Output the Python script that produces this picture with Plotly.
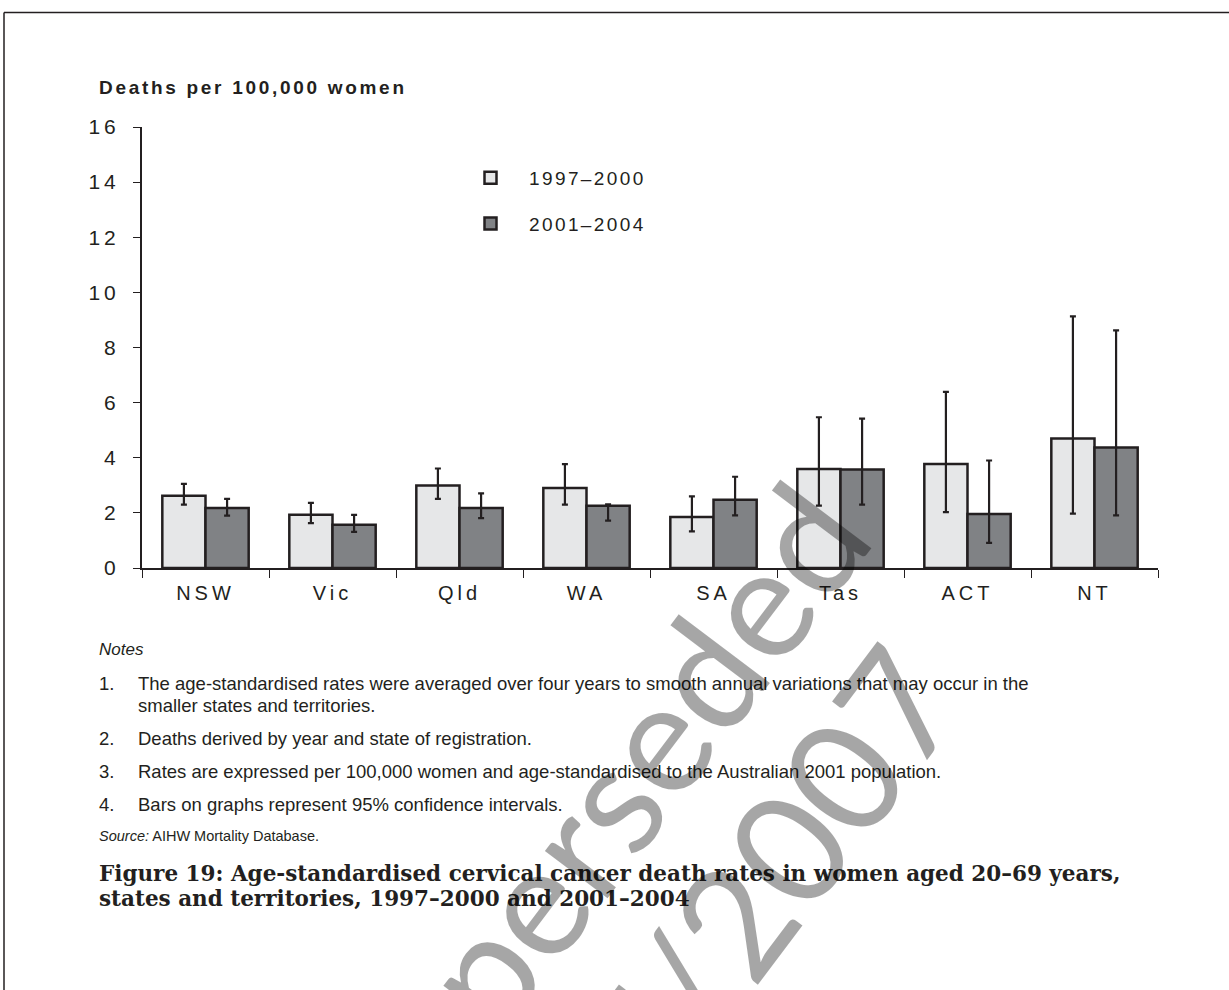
import plotly.graph_objects as go

# Age-standardised cervical cancer death rates, women aged 20-69
states = ["NSW", "Vic", "Qld", "WA", "SA", "Tas", "ACT", "NT"]

rate_1997_2000 = [2.62, 1.93, 2.99, 2.90, 1.85, 3.59, 3.77, 4.70]
ci_low_1997_2000 = [2.30, 1.63, 2.51, 2.30, 1.33, 2.26, 2.03, 1.97]
ci_high_1997_2000 = [3.05, 2.36, 3.61, 3.77, 2.60, 5.47, 6.39, 9.13]

rate_2001_2004 = [2.18, 1.57, 2.18, 2.26, 2.48, 3.57, 1.96, 4.37]
ci_low_2001_2004 = [1.90, 1.31, 1.81, 1.72, 1.91, 2.30, 0.91, 1.91]
ci_high_2001_2004 = [2.51, 1.93, 2.71, 2.31, 3.31, 5.42, 3.90, 8.62]

period_labels = ["1997\u20132000", "2001\u20132004"]
y_ticks = [0, 2, 4, 6, 8, 10, 12, 14, 16]

notes = [
    ("1.", "The age-standardised rates were averaged over four years to smooth annual variations that may occur in the"),
    ("", "smaller states and territories."),
    ("2.", "Deaths derived by year and state of registration."),
    ("3.", "Rates are expressed per 100,000 women and age-standardised to the Australian 2001 population."),
    ("4.", "Bars on graphs represent 95% confidence intervals."),
]
title_lines = [
    "Figure 19: Age-standardised cervical cancer death rates in women aged 20\u201369 years,",
    "states and territories, 1997\u20132000 and 2001\u20132004",
]
stamp_lines = ["Superseded", "17/7/2007"]

INK = "#231f20"
W, H = 1229, 990
ML, MR, MT, MB = 142, 71, 127, 422


def px(x):
    return (x - ML) / (W - ML - MR)


def py(y):
    return (H - MB - y) / (H - MT - MB)


def spaced(s, gap):
    return f'<span style="letter-spacing:{gap}px">{s}</span>'


def err(vals, lo, hi):
    up = [h - v for v, h in zip(vals, hi)]
    dn = [v - l for v, l in zip(vals, lo)]
    return dict(type="data", array=up, arrayminus=dn, visible=True,
                color=INK, thickness=2.2, width=3)


fig = go.Figure()
fig.add_trace(go.Bar(
    x=states, y=rate_1997_2000, name=spaced(period_labels[0], 2.4), legendgroup="a",
    marker=dict(color="#e6e7e8", line=dict(color=INK, width=2.5)),
    error_y=err(rate_1997_2000, ci_low_1997_2000, ci_high_1997_2000),
))
fig.add_trace(go.Bar(
    x=states, y=rate_2001_2004, name=spaced(period_labels[1], 2.4), legendgroup="b",
    marker=dict(color="#808285", line=dict(color=INK, width=2.5)),
    error_y=err(rate_2001_2004, ci_low_2001_2004, ci_high_2001_2004),
))

sans = "Liberation Sans, Arial, sans-serif"
NOTE_SIZE = 18.5
ann = []
ann.append(dict(x=px(97), y=py(88), xref="paper", yref="paper", xanchor="left",
                yanchor="middle", showarrow=False,
                text="<b>" + spaced("Deaths per 100,000 women", 2.7) + "</b>",
                font=dict(family=sans, size=19, color=INK)))
ann.append(dict(x=px(97), y=py(649), xref="paper", yref="paper", xanchor="left",
                yanchor="middle", showarrow=False, text="<i>Notes</i>",
                font=dict(family=sans, size=17, color=INK)))
note_y = [683, 705, 738, 771, 804]
for (num, txt), yy in zip(notes, note_y):
    if num:
        ann.append(dict(x=px(97), y=py(yy), xref="paper", yref="paper", xanchor="left",
                        yanchor="middle", showarrow=False, text=num,
                        font=dict(family=sans, size=NOTE_SIZE, color=INK)))
    ann.append(dict(x=px(136), y=py(yy), xref="paper", yref="paper", xanchor="left",
                    yanchor="middle", showarrow=False, text=txt,
                    font=dict(family=sans, size=NOTE_SIZE, color=INK)))
ann.append(dict(x=px(97), y=py(836), xref="paper", yref="paper", xanchor="left",
                yanchor="middle", showarrow=False,
                text="<i>Source:</i> AIHW Mortality Database.",
                font=dict(family=sans, size=14.5, color=INK)))
for line, yy in zip(title_lines, [873, 898]):
    ann.append(dict(x=px(97), y=py(yy), xref="paper", yref="paper", xanchor="left",
                    yanchor="middle", showarrow=False, text="<b>" + line + "</b>",
                    font=dict(family="DejaVu Serif, serif", size=21.5, color=INK)))

# diagonal stamp across the page
for line, (cx, cy) in zip(stamp_lines, [(590, 822), (690, 975)]):
    ann.append(dict(x=px(cx), y=py(cy), xref="paper", yref="paper", xanchor="center",
                    yanchor="middle", showarrow=False, text=line, textangle=-53,
                    font=dict(family="Lato, sans-serif", size=155, color="rgba(0,0,0,0.35)")))

shapes = [
    dict(type="line", xref="paper", yref="paper", x0=px(4), x1=px(1240), y0=py(12.5), y1=py(12.5),
         line=dict(color=INK, width=1.5)),
    dict(type="line", xref="paper", yref="paper", x0=px(4), x1=px(4), y0=py(12.5), y1=py(1000),
         line=dict(color=INK, width=1.5)),
]

fig.update_layout(
    width=W, height=H,
    margin=dict(l=ML, r=MR, t=MT, b=MB, autoexpand=False),
    paper_bgcolor="white", plot_bgcolor="white",
    barmode="group", bargap=0.32, bargroupgap=0,
    font=dict(family=sans, color=INK),
    showlegend=True,
    legend=dict(x=px(452), y=py(159), xanchor="left", yanchor="top",
                font=dict(family=sans, size=19, color=INK),
                traceorder="grouped", tracegroupgap=18, itemwidth=67,
                bgcolor="rgba(0,0,0,0)"),
    annotations=ann, shapes=shapes,
)
fig.update_xaxes(
    showline=True, linecolor=INK, linewidth=2, ticks="outside", tickson="boundaries",
    ticklen=8, tickwidth=1.3, tickcolor=INK, showgrid=False,
    tickmode="array", tickvals=states, ticktext=[spaced(s, 4) for s in states],
    tickfont=dict(family=sans, size=20, color=INK), ticklabelstandoff=6,
)
fig.update_yaxes(
    range=[0, 16], tickmode="array", tickvals=y_ticks,
    ticktext=[spaced(str(v), 4) for v in y_ticks],
    showline=True, linecolor=INK, linewidth=2,
    ticks="outside", ticklen=7, tickwidth=1.3, tickcolor=INK, showgrid=False,
    zeroline=False, tickfont=dict(family=sans, size=21, color=INK), ticklabelstandoff=9,
)

fig.write_html("out.html")
